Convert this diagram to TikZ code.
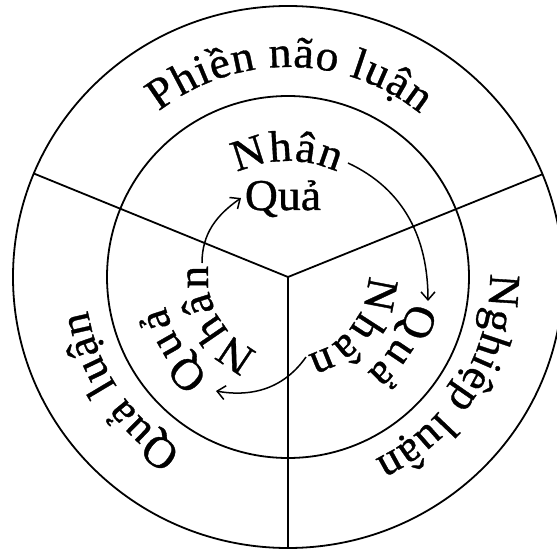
\documentclass[tikz,border=0pt]{standalone}
\usepackage{fontspec}
\setmainfont[FakeStretch=1.04,FakeBold=0.8]{Liberation Serif}
\usetikzlibrary{decorations.text,arrows.meta}
\newcommand{\tf}{\fontsize{44}{44}\selectfont}
\begin{document}
\begin{tikzpicture}[x=1pt,y=1pt,
  ring/.style={line width=1.8pt},
  flow/.style={line width=1.5pt,-{Straight Barb[length=8pt,width=14pt,line width=1.5pt]}},
  arctext/.style={decorate,decoration={text along path,text align={fit to path},text={#1}}}
]
\useasboundingbox (-288,-272) rectangle (269,277);
% rings
\coordinate (O) at (0,0);
\draw[ring] (O) ellipse [x radius=275, y radius=271];
\draw[ring] (O) circle [radius=181];
\coordinate (L) at (-254.7,103.7);
\coordinate (R) at (254.3,102.7);
\coordinate (B) at (0,-271);
\draw[ring] (L) -- (O) -- (R);
\draw[ring] (O) -- (B);
% outer texts
\path[arctext={|\tf|Phiền não luận}] (128:210) arc[start angle=128, end angle=51, radius=210];
\path[arctext={|\tf|Nghiệp luận}] (1:202) arc[start angle=1, end angle=-64.5, radius=202];
\path[arctext={|\tf|Quả luận}] (238.5:203) arc[start angle=238.5, end angle=189.5, radius=203];
% inner texts
\path[arctext={|\tf|Nhân}] (116:116) arc[start angle=116, end angle=65, radius=116];
\node[font=\tf, anchor=base, inner sep=0pt] (q1) at (-5,67) {Quả};
\path[arctext={|\tf|Nhân}] (1:80) arc[start angle=1, end angle=-76, radius=80];
\path[arctext={|\tf|Quả}] (-11.5:124) arc[start angle=-11.5, end angle=-50.5, radius=124];
\path[arctext={|\tf|Nhân}] (248:80) arc[start angle=248, end angle=172, radius=80];
\path[arctext={|\tf|Quả}] (231.5:126) arc[start angle=231.5, end angle=193.5, radius=126];
% arrows
\coordinate (a1) at (60,114);
\coordinate (a2) at (140,-24);
\coordinate (b1) at (18,-80);
\coordinate (b2) at (-72,-114);
\coordinate (c1) at (-86,14);
\coordinate (c2) at (-47,79);
\draw[flow] (a1) to[out=-25,in=90] (a2);
\draw[flow] (b1) to[out=235,in=-10] (b2);
\draw[flow] (c1) to[out=90,in=215] (c2);
\end{tikzpicture}
\end{document}
